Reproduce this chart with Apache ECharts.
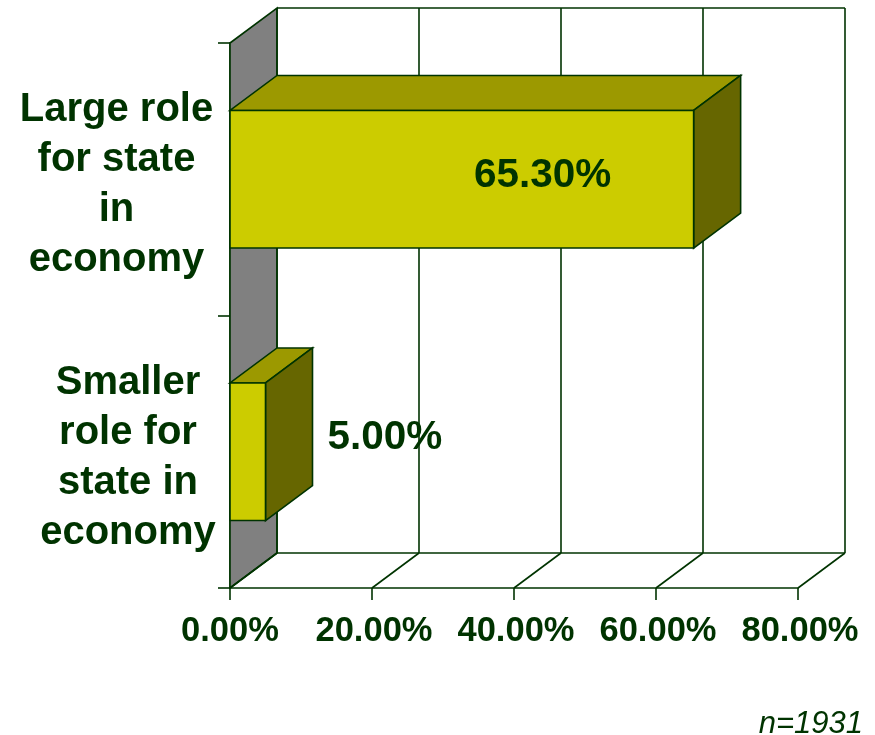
<!DOCTYPE html>
<html><head><meta charset="utf-8">
<style>html,body{margin:0;padding:0;background:#fff}#c{width:875px;height:735px}</style>
<script src="https://cdn.jsdelivr.net/npm/echarts@6/dist/echarts.min.js"></script>
</head><body><div id="c"></div>
<script>
const categories = ['Large role\nfor state\nin\neconomy', 'Smaller\nrole for\nstate in\neconomy'];
const shares = [65.3, 5.0];
const valueLabels = ['65.30%', '5.00%'];
const axisTicks = [0, 20, 40, 60, 80];
const noteText = 'n=1931';

const DX = 47, DY = -35;
const INK = '#003300';
const FONT = '"Liberation Sans", Arial, sans-serif';
const line = {stroke: INK, lineWidth: 1.6};

const chart = echarts.init(document.getElementById('c'), null, {renderer: 'canvas'});

function poly(points, fill) {
  return {type: 'polygon', shape: {points}, style: {fill, stroke: INK, lineWidth: 1.6}};
}
function seg(a, b) {
  return {type: 'line', shape: {x1: a[0], y1: a[1], x2: b[0], y2: b[1]}, style: line};
}

function renderFrame(params, api) {
  const v = api.value(0);
  const bottom = api.coord([v, 1]);
  const g = params.coordSys;
  const bx = bottom[0], by = g.y + g.height, ty = g.y;
  const kids = [
    seg([bx, by], [bx + DX, by + DY]),
    seg([bx + DX, by + DY], [bx + DX, ty + DY])
  ];
  if (params.dataIndex === 0) {
    kids.unshift(poly([[bx, by], [bx + DX, by + DY], [bx + DX, ty + DY], [bx, ty]], '#808080'));
  } else {
    const px = api.coord([axisTicks[params.dataIndex - 1], 0])[0];
    kids.push(seg([px + DX, by + DY], [bx + DX, by + DY]));
    kids.push(seg([px + DX, ty + DY], [bx + DX, ty + DY]));
  }
  return {type: 'group', children: kids};
}

function renderBar(params, api) {
  const val = api.value(0), cat = api.value(1);
  const end = api.coord([val, cat]);
  const zero = api.coord([0, cat]);
  const band = api.size([0, 1])[1];
  const h = band * 0.505;
  const x0 = zero[0], x1 = end[0], y0 = end[1] - h / 2, y1 = end[1] + h / 2;
  return {type: 'group', children: [
    poly([[x0, y0], [x1, y0], [x1 + DX, y0 + DY], [x0 + DX, y0 + DY]], '#9c9900'),
    poly([[x1, y0], [x1 + DX, y0 + DY], [x1 + DX, y1 + DY], [x1, y1]], '#666600'),
    poly([[x0, y0], [x1, y0], [x1, y1], [x0, y1]], '#cccc00')
  ]};
}

function renderText(params, api) {
  const val = api.value(0), cat = api.value(1);
  const end = api.coord([val, cat]);
  const i = params.dataIndex;
  const inside = val > 30;
  return {type: 'text', x: inside ? end[0] - 151 : end[0] + 62, y: end[1] - (inside ? 3 : 14),
    style: {text: valueLabels[i], fill: INK, font: 'bold 40.5px ' + FONT,
      textAlign: inside ? 'center' : 'left', textVerticalAlign: 'middle'}};
}

function renderCategory(params, api) {
  const i = params.dataIndex;
  const c = api.coord([0, api.value(1)]);
  return {type: 'text', x: c[0] - (i === 0 ? 113.5 : 102), y: c[1] + 6,
    style: {text: categories[i], fill: INK, font: 'bold 40px ' + FONT, lineHeight: 50,
      textAlign: 'center', textVerticalAlign: 'middle'}};
}

const xLabelStyle = {color: INK, fontFamily: FONT, fontWeight: 'bold', fontSize: 34.5};

chart.setOption({
  animation: false,
  backgroundColor: '#fff',
  title: {text: noteText, right: 7, top: 704,
    textStyle: {color: INK, fontStyle: 'italic', fontWeight: 'normal', fontSize: 31, fontFamily: FONT}},
  grid: {left: 230, top: 43, width: 568, height: 545, containLabel: false, outerBoundsMode: 'none'},
  xAxis: {type: 'value', min: 0, max: 80, interval: 20,
    axisLine: {show: true, onZero: false, lineStyle: {color: INK, width: 1.6}},
    axisTick: {show: true, length: 12, lineStyle: {color: INK, width: 1.6}},
    splitLine: {show: false},
    axisLabel: {margin: 26, ...xLabelStyle, hideOverlap: false,
      showMinLabel: true, showMaxLabel: true,
      rich: {z: {...xLabelStyle, padding: [0, 0, 0, 0]}, n: {...xLabelStyle, padding: [0, 0, 0, 4]}},
      formatter: v => '{' + (v === 0 ? 'z' : 'n') + '|' + v.toFixed(2) + '%}'}},
  yAxis: {type: 'category', inverse: true, data: categories,
    axisLine: {show: true, lineStyle: {color: INK, width: 1.6}},
    axisTick: {show: true, length: 12, alignWithLabel: false, lineStyle: {color: INK, width: 1.6}},
    axisLabel: {show: false}},
  series: [
    {type: 'custom', renderItem: renderFrame, clip: false, silent: true, z: 1,
      encode: {x: 0, y: 1}, data: axisTicks.map(t => [t, 1])},
    {type: 'custom', renderItem: renderBar, clip: false, silent: true, z: 3,
      encode: {x: 0, y: 1}, data: shares.map((s, i) => [s, i])},
    {type: 'custom', renderItem: renderText, clip: false, silent: true, z: 5,
      encode: {x: 0, y: 1}, data: shares.map((s, i) => [s, i])},
    {type: 'custom', renderItem: renderCategory, clip: false, silent: true, z: 5,
      encode: {x: 0, y: 1}, data: categories.map((c, i) => [0, i])}
  ]
});
</script></body></html>
